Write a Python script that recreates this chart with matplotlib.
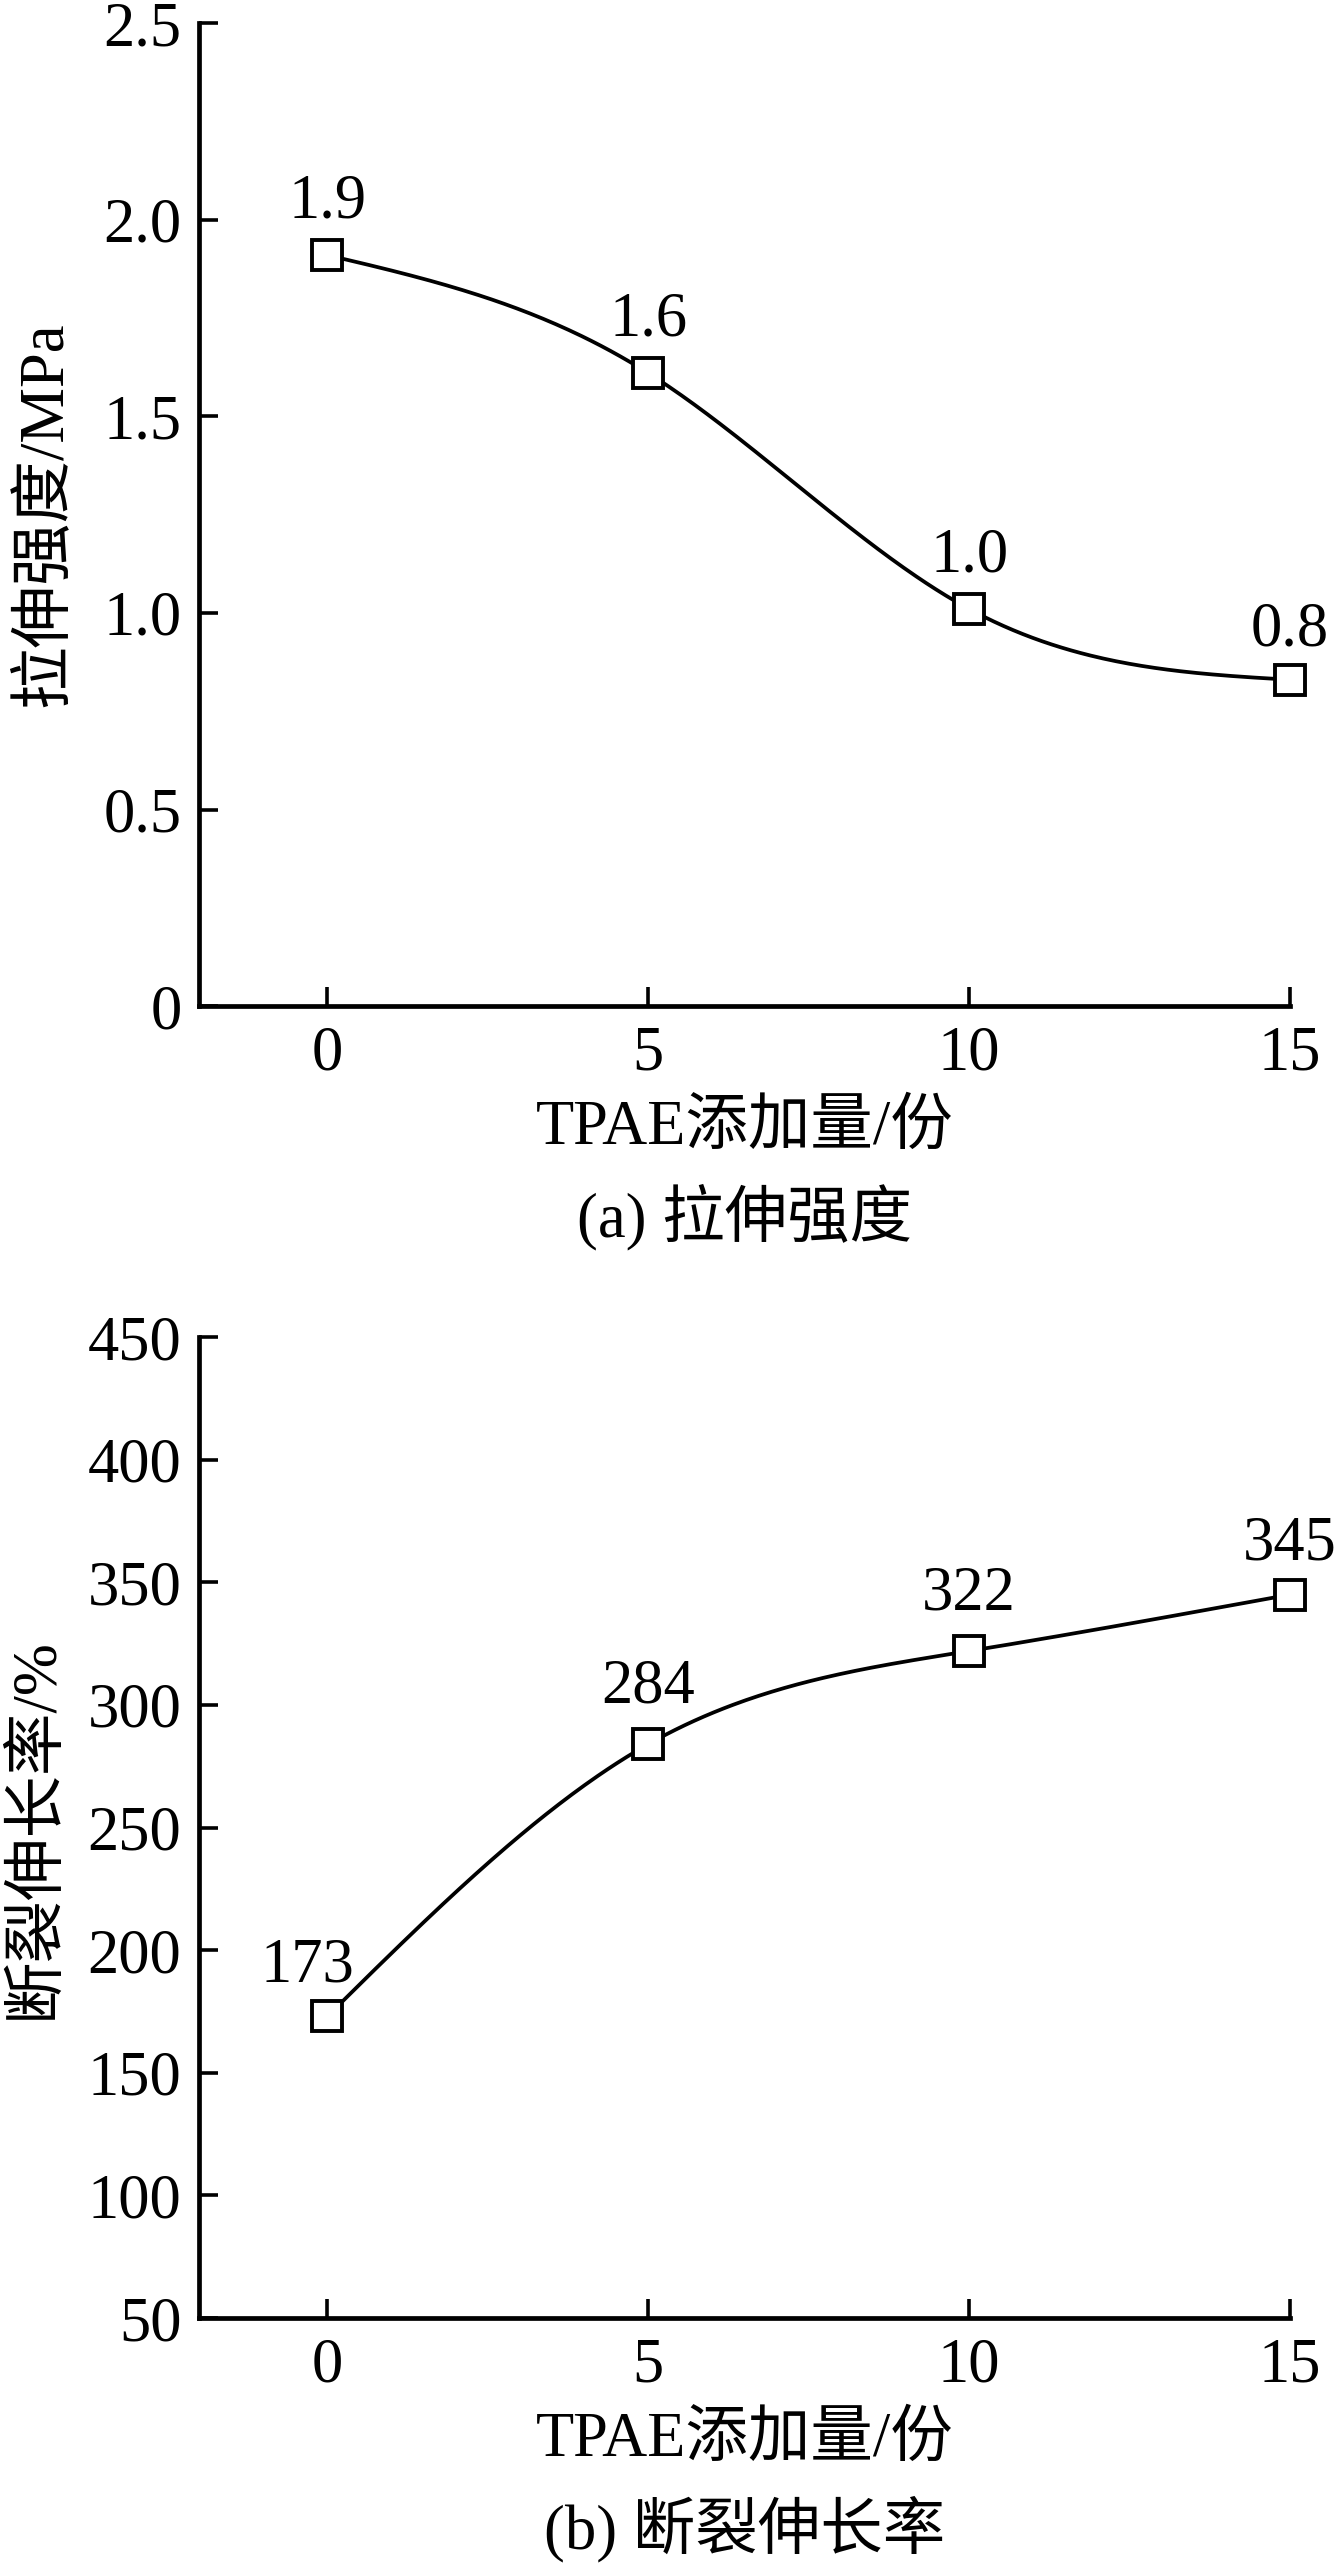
import numpy as np
import matplotlib
matplotlib.use("Agg")
import matplotlib.pyplot as plt

# ==========================
# Données
# ==========================

tpae = [0, 5, 10, 15]

strength = [1.91, 1.61, 1.01, 0.83]
strength_labels = ["1.9", "1.6", "1.0", "0.8"]

elongation = [173, 284, 322, 345]
elongation_labels = ["173", "284", "322", "345"]

xticks = [0, 5, 10, 15]
yticks_a = [0, 0.5, 1.0, 1.5, 2.0, 2.5]
yticks_a_labels = ["0", "0.5", "1.0", "1.5", "2.0", "2.5"]
yticks_b = [50, 100, 150, 200, 250, 300, 350, 400, 450]

xlabel = "TPAE添加量/份"
ylabel_a = "拉伸强度/MPa"
ylabel_b = "断裂伸长率/%"
caption_a = "(a) 拉伸强度"
caption_b = "(b) 断裂伸长率"

# ==========================
# Style
# ==========================

plt.rcParams["font.family"] = ["Liberation Serif", "Noto Sans CJK SC"]
plt.rcParams["font.size"] = 45
plt.rcParams["axes.unicode_minus"] = False


def natural_spline(x, y, n=300):
    # spline cubique naturelle pour la courbe lissée
    x = np.asarray(x, float)
    y = np.asarray(y, float)
    k = len(x)
    h = np.diff(x)
    A = np.zeros((k, k))
    b = np.zeros(k)
    A[0, 0] = A[-1, -1] = 1
    for i in range(1, k - 1):
        A[i, i - 1] = h[i - 1]
        A[i, i] = 2 * (h[i - 1] + h[i])
        A[i, i + 1] = h[i]
        b[i] = 6 * ((y[i + 1] - y[i]) / h[i] - (y[i] - y[i - 1]) / h[i - 1])
    m = np.linalg.solve(A, b)
    xs = np.linspace(x[0], x[-1], n)
    ys = np.empty_like(xs)
    for j, t in enumerate(xs):
        i = min(np.searchsorted(x, t, side="right") - 1, k - 2)
        a = x[i + 1] - t
        c = t - x[i]
        ys[j] = (m[i] * a**3 + m[i + 1] * c**3) / (6 * h[i]) \
            + (y[i] / h[i] - m[i] * h[i] / 6) * a \
            + (y[i + 1] / h[i] - m[i + 1] * h[i] / 6) * c
    return xs, ys


def draw(ax, y, labels, offsets, yticks, yticklabels, ylim, ylabel, caption, ylab_x):
    xs, ys = natural_spline(tpae, y)
    ax.plot(xs, ys, color="black", lw=2.7, zorder=2, clip_on=False)
    ax.plot(tpae, y, ls="none", marker="s", ms=22, mfc="white",
            mec="black", mew=2.8, zorder=3, clip_on=False)
    for xi, yi, lab, off in zip(tpae, y, labels, offsets):
        ax.annotate(lab, (xi, yi), xytext=off, textcoords="offset points",
                    ha="center", va="baseline", fontsize=45,
                    annotation_clip=False)

    ax.set_xlim(-1.99, 15)
    ax.set_ylim(*ylim)
    ax.set_xticks(xticks)
    ax.set_yticks(yticks)
    ax.set_yticklabels(yticklabels)

    for s in ["top", "right"]:
        ax.spines[s].set_visible(False)
    for s in ["left", "bottom"]:
        ax.spines[s].set_linewidth(3.4)

    ax.tick_params(axis="both", direction="in", length=14, width=2.6,
                   labelsize=45)
    ax.tick_params(axis="y", pad=13)
    ax.tick_params(axis="x", pad=14)

    ax.set_xlabel(xlabel, fontsize=45, labelpad=12)
    ax.set_ylabel(ylabel, fontsize=45)
    ax.yaxis.set_label_coords(ylab_x, 0.5)
    ax.text(0.5, caption[1], caption[0], transform=ax.transAxes,
            ha="center", va="center", fontsize=45)


fig = plt.figure(figsize=(13.36, 25.64), dpi=100)

ax1 = fig.add_axes([0.1493, 0.6076, 0.8163, 0.3834])
ax2 = fig.add_axes([0.1493, 0.0959, 0.8163, 0.3826])

draw(ax1, strength, strength_labels,
     [(0, 27), (0, 27), (0, 27), (0, 25)],
     yticks_a, yticks_a_labels, (0, 2.5), ylabel_a,
     (caption_a, -0.215), -0.115)

draw(ax2, elongation, elongation_labels,
     [(-14, 25), (0, 30), (0, 30), (0, 25)],
     yticks_b, [str(v) for v in yticks_b], (50, 450), ylabel_b,
     (caption_b, -0.215), -0.123)

plt.savefig("out.png", dpi=100)
plt.close()
